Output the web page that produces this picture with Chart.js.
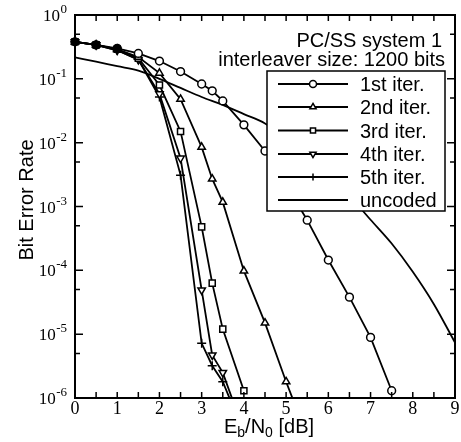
<!DOCTYPE html>
<html><head><meta charset="utf-8">
<script src="https://cdn.jsdelivr.net/npm/chart.js@4/dist/chart.umd.min.js"></script>
<style>html,body{margin:0;padding:0;background:#fff}#wrap{width:461px;height:442px}</style>
</head><body><div id="wrap"><canvas id="c" width="461" height="442"></canvas></div>
<script>
// ---- data ----
const iter1X = [0, 0.5, 1, 1.5, 2, 2.5, 3, 3.25, 3.5, 4, 4.5, 5, 5.5, 6, 6.5, 7, 7.5];
const iter1Y = [0.38, 0.34, 0.30, 0.25, 0.19, 0.13, 0.083, 0.065, 0.045, 0.019, 0.0074, 0.0022, 6.1e-4, 1.45e-4, 3.8e-5, 8.9e-6, 1.3e-6];
const iter2X = [0, 0.5, 1, 1.5, 2, 2.5, 3, 3.25, 3.5, 4, 4.5, 5, 5.5];
const iter2Y = [0.38, 0.34, 0.29, 0.22, 0.123, 0.048, 0.0085, 2.7e-3, 1.17e-3, 9.8e-5, 1.5e-5, 1.8e-6, 2.5e-7];
const iter3X = [0, 0.5, 1, 1.5, 2, 2.5, 3, 3.25, 3.5, 4];
const iter3Y = [0.38, 0.34, 0.29, 0.21, 0.08, 0.015, 4.8e-4, 6.3e-5, 1.2e-5, 1.3e-6];
const iter4X = [0, 0.5, 1, 1.5, 2, 2.5, 3, 3.25, 3.5, 4];
const iter4Y = [0.38, 0.34, 0.28, 0.20, 0.058, 5.7e-3, 4.9e-5, 4.7e-6, 2.5e-6, 3e-7];
const iter5X = [0, 0.5, 1, 1.5, 2, 2.5, 3, 3.25, 3.5, 4];
const iter5Y = [0.38, 0.34, 0.28, 0.20, 0.052, 3.1e-3, 7.2e-6, 3.2e-6, 1.8e-6, 2.8e-7];
const uncodedX = [0, 0.5, 1, 1.5, 2, 2.5, 3, 3.5, 4, 4.5, 5, 5.5, 6, 6.5, 7, 7.5, 8, 8.5, 9];
const uncodedY = [0.217, 0.186, 0.158, 0.135, 0.10, 0.072, 0.052, 0.039, 0.028, 0.020, 0.0117, 6.3e-3, 3.2e-3, 1.48e-3, 6.2e-4, 2.63e-4, 9.5e-5, 2.95e-5, 7.4e-6];
const seriesNames = ['1st iter.', '2nd iter.', '3rd iter.', '4th iter.', '5th iter.', 'uncoded'];
const xTickLabels = ['0', '1', '2', '3', '4', '5', '6', '7', '8', '9'];
const yTickExponents = [0, -1, -2, -3, -4, -5, -6];
const titleLines = ['PC/SS system 1', 'interleaver size: 1200 bits'];

function pts(xs, ys) { return xs.map((x, i) => ({ x: x, y: ys[i] })); }

const markerSpec = [
  { style: 'circle', rot: 0, r: 3.9 },
  { style: 'triangle', rot: 0, r: 4.3 },
  { style: 'rect', rot: 0, r: 4.3 },
  { style: 'triangle', rot: 180, r: 4.3 },
  { style: 'cross', rot: 0, r: 4.5 },
  { style: false, rot: 0, r: 0 }
];
const allX = [iter1X, iter2X, iter3X, iter4X, iter5X, uncodedX];
const allY = [iter1Y, iter2Y, iter3Y, iter4Y, iter5Y, uncodedY];

const datasets = allX.map((xs, i) => {
  const m = markerSpec[i];
  const bg = i === 0 ? xs.map(x => x <= 1 ? '#000' : '#fff') : '#fff';
  const ds = {
    label: seriesNames[i],
    data: pts(xs, allY[i]),
    borderColor: '#000',
    borderWidth: 1.8,
    showLine: true,
    fill: false,
    tension: 0,
    pointStyle: m.style || 'circle',
    pointRotation: m.rot,
    pointRadius: m.style ? m.r : 0,
    pointHoverRadius: m.style ? m.r : 0,
    pointBorderWidth: 1.5,
    pointBorderColor: '#000',
    pointBackgroundColor: bg,
    clip: { left: 8, top: 0, right: 0, bottom: 0 }
  };
  if (!m.style) ds.cubicInterpolationMode = 'monotone';
  return ds;
});

function drawMarker(ctx, style, rot, x, y, r) {
  ctx.beginPath();
  if (style === 'circle') {
    ctx.arc(x, y, r, 0, Math.PI * 2);
    ctx.fill(); ctx.stroke();
  } else if (style === 'triangle') {
    let a = rot * Math.PI / 180;
    for (let k = 0; k < 3; k++) {
      const px = x + Math.sin(a) * r, py = y - Math.cos(a) * r;
      if (k === 0) ctx.moveTo(px, py); else ctx.lineTo(px, py);
      a += 2 * Math.PI / 3;
    }
    ctx.closePath(); ctx.fill(); ctx.stroke();
  } else if (style === 'rect') {
    const s = r * Math.SQRT1_2;
    ctx.rect(x - s, y - s, 2 * s, 2 * s);
    ctx.fill(); ctx.stroke();
  } else if (style === 'cross') {
    ctx.moveTo(x, y - r); ctx.lineTo(x, y + r);
    ctx.moveTo(x - r, y); ctx.lineTo(x + r, y);
    ctx.stroke();
  }
}

const deco = {
  id: 'deco',
  afterDatasetsDraw(chart) {
    const ctx = chart.ctx;
    const a = chart.chartArea;
    const xs = chart.scales.x, ys = chart.scales.y;
    ctx.save();
    ctx.strokeStyle = '#000'; ctx.fillStyle = '#000';
    // ticks (inward, all four sides)
    ctx.lineWidth = 1.5;
    ctx.beginPath();
    for (let v = 0; v <= 9.001; v += 0.5) {
      const px = xs.getPixelForValue(v);
      ctx.moveTo(px, a.bottom); ctx.lineTo(px, a.bottom - 6);
      ctx.moveTo(px, a.top); ctx.lineTo(px, a.top + 6);
    }
    for (let e = 0; e >= -6; e--) {
      [1, 5].forEach(m => {
        const val = m * Math.pow(10, e);
        if (val > 1 || val < 1e-6) return;
        const py = ys.getPixelForValue(val);
        const len = m === 1 ? 8 : 5;
        ctx.moveTo(a.left, py); ctx.lineTo(a.left + len, py);
        ctx.moveTo(a.right, py); ctx.lineTo(a.right - len, py);
      });
    }
    ctx.stroke();
    // frame
    ctx.lineWidth = 2;
    ctx.strokeRect(a.left, a.top, a.right - a.left, a.bottom - a.top);

    // x tick labels
    ctx.font = '18px "Liberation Serif"';
    ctx.textAlign = 'center'; ctx.textBaseline = 'alphabetic';
    xTickLabels.forEach(t => {
      ctx.fillText(t, xs.getPixelForValue(Number(t)), a.bottom + 16);
    });
    // y tick labels 10^e
    yTickExponents.forEach(e => {
      const py = ys.getPixelForValue(Math.pow(10, e));
      const expStr = e === 0 ? '0' : '-' + (-e);
      ctx.font = '13px "Liberation Serif"';
      ctx.textAlign = 'right';
      const ew = ctx.measureText(expStr).width;
      const right = a.left - 8;
      ctx.fillText(expStr, right, py - 2);
      ctx.font = '17px "Liberation Serif"';
      ctx.fillText('10', right - ew - 0.5, py + 6);
    });

    // axis titles
    ctx.font = '20px "Liberation Sans"';
    ctx.save();
    ctx.translate(33, 200);
    ctx.rotate(-Math.PI / 2);
    ctx.textAlign = 'center';
    ctx.fillText('Bit Error Rate', 0, 0);
    ctx.restore();

    const parts = [['E', 0], ['b', 1], ['/N', 0], ['0', 1], [' [dB]', 0]];
    const fMain = '20px "Liberation Sans"', fSub = '14px "Liberation Sans"';
    let total = 0;
    parts.forEach(p => { ctx.font = p[1] ? fSub : fMain; total += ctx.measureText(p[0]).width; });
    let cx = 269 - total / 2;
    ctx.textAlign = 'left';
    parts.forEach(p => {
      ctx.font = p[1] ? fSub : fMain;
      ctx.fillText(p[0], cx, p[1] ? 437 : 433);
      cx += ctx.measureText(p[0]).width;
    });

    // annotation text
    ctx.font = '20px "Liberation Sans"';
    ctx.textAlign = 'right';
    ctx.fillText(titleLines[0], 442, 47);
    ctx.fillText(titleLines[1], 445, 66);

    // legend box
    const lx = 267, ly = 71, lw = 178, lh = 140;
    ctx.fillStyle = '#fff';
    ctx.fillRect(lx, ly, lw, lh);
    ctx.lineWidth = 1.5;
    ctx.strokeStyle = '#000';
    ctx.strokeRect(lx, ly, lw, lh);
    const rowY = [84, 107, 130.5, 154, 177, 200];
    seriesNames.forEach((n, i) => {
      const y = rowY[i];
      ctx.lineWidth = 1.8;
      ctx.strokeStyle = '#000';
      ctx.beginPath(); ctx.moveTo(278, y); ctx.lineTo(348, y); ctx.stroke();
      const m = markerSpec[i];
      if (m.style) {
        ctx.fillStyle = '#fff';
        ctx.lineWidth = 1.5;
        drawMarker(ctx, m.style, m.rot, 313, y, m.style === 'circle' ? 3.5 : 3.6);
      }
      ctx.fillStyle = '#000';
      ctx.font = '20px "Liberation Sans"';
      ctx.textAlign = 'left';
      ctx.fillText(n, 360, y + 7);
    });
    ctx.restore();
  }
};

new Chart(document.getElementById('c'), {
  type: 'scatter',
  data: { datasets: datasets },
  options: {
    responsive: false,
    devicePixelRatio: 1,
    animation: false,
    layout: { padding: { top: 15, right: 3, left: 0, bottom: 0 } },
    plugins: { legend: { display: false }, tooltip: { enabled: false } },
    scales: {
      x: {
        type: 'linear', min: 0, max: 9,
        ticks: { display: false }, grid: { display: false }, border: { display: false },
        afterFit(s) { s.height = 44; }
      },
      y: {
        type: 'logarithmic', min: 1e-6, max: 1,
        ticks: { display: false }, grid: { display: false }, border: { display: false },
        afterFit(s) { s.width = 75; }
      }
    }
  },
  plugins: [deco]
});
</script>
</body></html>
